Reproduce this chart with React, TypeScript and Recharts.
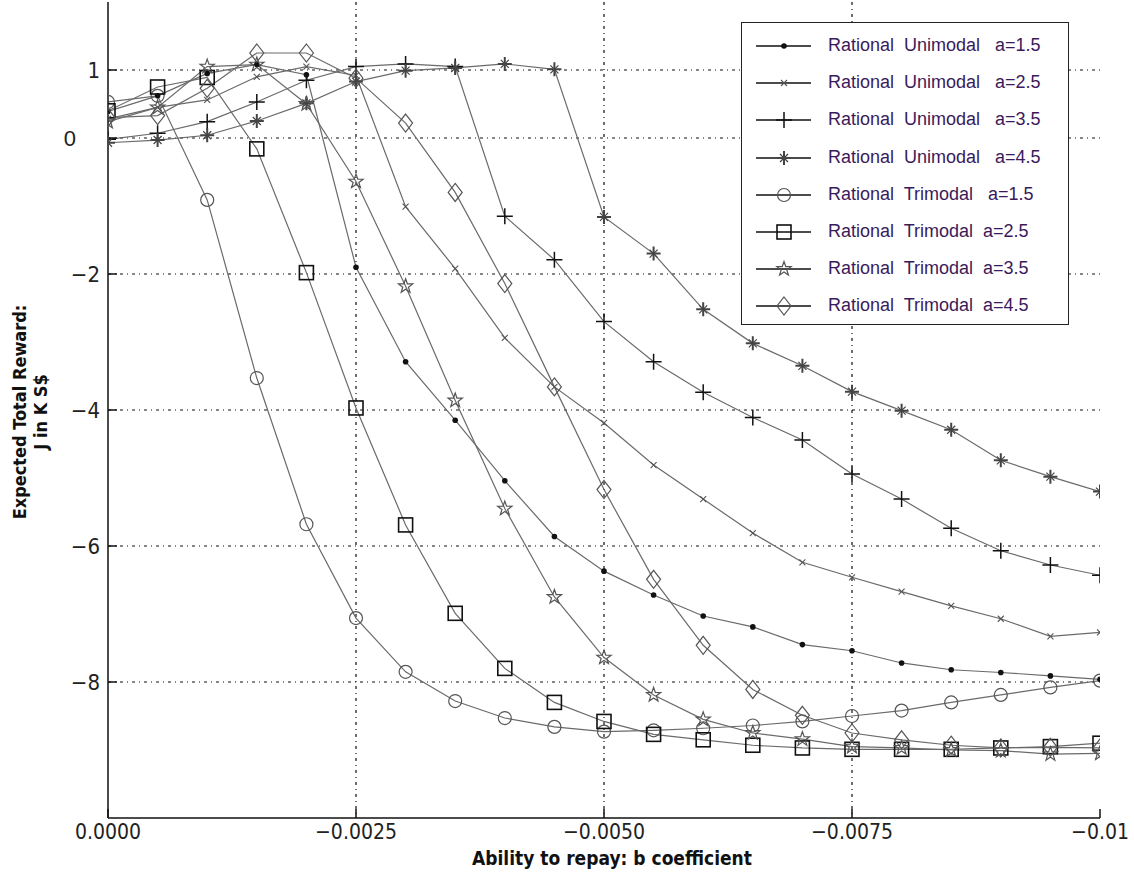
import React from 'react'
import { LineChart, Line, XAxis, YAxis, CartesianGrid, Legend, Label } from 'recharts'

// b coefficient (x axis), 0 down to -0.01
const bValues = [
  0, -0.0005, -0.001, -0.0015, -0.002, -0.0025, -0.003, -0.0035, -0.004, -0.0045,
  -0.005, -0.0055, -0.006, -0.0065, -0.007, -0.0075, -0.008, -0.0085, -0.009, -0.0095, -0.01,
]

// expected total reward, K S$
const uni15 = [0.39, 0.62, 0.95, 1.08, 0.93, -1.9, -3.29, -4.15, -5.04, -5.86, -6.37, -6.72, -7.03, -7.19, -7.45, -7.54, -7.72, -7.82, -7.86, -7.91, -7.96]
const uni25 = [0.28, 0.45, 0.56, 0.9, 1.05, 0.92, -1.01, -1.92, -2.94, -3.66, -4.19, -4.81, -5.31, -5.81, -6.24, -6.46, -6.67, -6.88, -7.07, -7.33, -7.27]
const uni35 = [-0.02, 0.07, 0.24, 0.53, 0.85, 1.05, 1.09, 1.05, -1.15, -1.79, -2.7, -3.29, -3.74, -4.11, -4.44, -4.94, -5.31, -5.74, -6.07, -6.28, -6.43]
const uni45 = [-0.07, -0.03, 0.04, 0.25, 0.51, 0.83, 0.99, 1.03, 1.09, 1.01, -1.16, -1.7, -2.52, -3.02, -3.35, -3.73, -4.01, -4.29, -4.74, -4.98, -5.2]
const tri15 = [0.53, 0.62, -0.91, -3.53, -5.68, -7.06, -7.85, -8.28, -8.53, -8.66, -8.73, -8.71, -8.68, -8.64, -8.58, -8.5, -8.42, -8.3, -8.19, -8.08, -7.98]
const tri25 = [0.4, 0.75, 0.89, -0.16, -1.98, -3.97, -5.69, -6.99, -7.8, -8.3, -8.58, -8.77, -8.85, -8.93, -8.97, -8.99, -8.99, -8.99, -8.97, -8.95, -8.9]
const tri35 = [0.24, 0.45, 1.05, 1.08, 0.5, -0.64, -2.18, -3.86, -5.45, -6.75, -7.64, -8.19, -8.55, -8.75, -8.84, -8.95, -8.97, -9.0, -9.01, -9.06, -9.05]
const tri45 = [0.3, 0.33, 0.73, 1.25, 1.25, 0.88, 0.22, -0.8, -2.14, -3.66, -5.17, -6.49, -7.46, -8.11, -8.49, -8.75, -8.85, -8.93, -8.97, -8.96, -8.97]

const xTicks = [0, -0.0025, -0.005, -0.0075, -0.01]
const xTickLabels = ['0.0000', '\u22120.0025', '\u22120.0050', '\u22120.0075', '\u22120.01']
const yTicks = [-8, -6, -4, -2, 0, 1]
const yTickLabels = ['\u22128', '\u22126', '\u22124', '\u22122', '0', '1']

const series = [
  { key: 'uni15', name: 'Rational  Unimodal   a=1.5', values: uni15, marker: 'dot' },
  { key: 'uni25', name: 'Rational  Unimodal   a=2.5', values: uni25, marker: 'x' },
  { key: 'uni35', name: 'Rational  Unimodal   a=3.5', values: uni35, marker: 'plus' },
  { key: 'uni45', name: 'Rational  Unimodal   a=4.5', values: uni45, marker: 'aster' },
  { key: 'tri15', name: 'Rational  Trimodal   a=1.5', values: tri15, marker: 'circle' },
  { key: 'tri25', name: 'Rational  Trimodal  a=2.5', values: tri25, marker: 'square' },
  { key: 'tri35', name: 'Rational  Trimodal  a=3.5', values: tri35, marker: 'star' },
  { key: 'tri45', name: 'Rational  Trimodal  a=4.5', values: tri45, marker: 'diamond' },
]

const data = bValues.map((b, i) => {
  const row: Record<string, number> = { b }
  series.forEach((s) => { row[s.key] = s.values[i] })
  return row
})

const FONT = "'Liberation Sans Narrow', 'DejaVu Sans Condensed', Arial, sans-serif"

function starPath(cx: number, cy: number, ro: number, ri: number) {
  let d = ''
  for (let k = 0; k < 10; k++) {
    const r = k % 2 === 0 ? ro : ri
    const a = -Math.PI / 2 + (k * Math.PI) / 5
    d += (k === 0 ? 'M' : 'L') + (cx + r * Math.cos(a)).toFixed(2) + ',' + (cy + r * Math.sin(a)).toFixed(2)
  }
  return d + 'Z'
}

function Marker({ kind, cx, cy }: { kind: string; cx: number; cy: number }) {
  if (cx == null || cy == null) return null
  switch (kind) {
    case 'dot':
      return <circle cx={cx} cy={cy} r={2.8} fill="#111" />
    case 'x':
      return <path d={`M${cx - 3},${cy - 3}L${cx + 3},${cy + 3}M${cx - 3},${cy + 3}L${cx + 3},${cy - 3}`} stroke="#555" strokeWidth={1.1} />
    case 'plus':
      return <path d={`M${cx - 8},${cy}L${cx + 8},${cy}M${cx},${cy - 8}L${cx},${cy + 8}`} stroke="#111" strokeWidth={1.5} />
    case 'aster':
      return (
        <g stroke="#444">
          <path d={`M${cx - 7},${cy}L${cx + 7},${cy}M${cx},${cy - 7}L${cx},${cy + 7}`} strokeWidth={2} />
          <path d={`M${cx - 4},${cy - 4}L${cx + 4},${cy + 4}M${cx - 4},${cy + 4}L${cx + 4},${cy - 4}`} strokeWidth={1.2} />
        </g>
      )
    case 'circle':
      return <circle cx={cx} cy={cy} r={6.5} fill="none" stroke="#555" strokeWidth={1.2} />
    case 'square':
      return <rect x={cx - 7} y={cy - 7} width={14} height={14} fill="none" stroke="#111" strokeWidth={1.6} />
    case 'star':
      return <path d={starPath(cx, cy, 7.5, 3)} fill="none" stroke="#555" strokeWidth={1.2} />
    case 'diamond':
      return <path d={`M${cx},${cy - 9}L${cx + 7},${cy}L${cx},${cy + 9}L${cx - 7},${cy}Z`} fill="none" stroke="#555" strokeWidth={1.2} />
    default:
      return null
  }
}

function YTick(props: any) {
  const { x, y, payload } = props
  const i = yTicks.indexOf(payload.value)
  const isZero = payload.value === 0
  return (
    <text x={isZero ? x - 24 : x} y={y} dy="0.35em" textAnchor="end" fontSize={22} fontFamily={isZero ? 'Arial, sans-serif' : FONT} fill="#222">
      {yTickLabels[i]}
    </text>
  )
}

function XTick(props: any) {
  const { x, y, payload } = props
  const i = xTicks.findIndex((t) => Math.abs(t - payload.value) < 1e-9)
  return (
    <text x={x} y={y} dy="0.8em" textAnchor="middle" fontSize={21} fontFamily={FONT} fill="#222">
      {xTickLabels[i]}
    </text>
  )
}

const noTick = () => <g />

function YTitle() {
  return (
    <g fontFamily={FONT} fontWeight="bold" fontSize={18} fill="#111" textAnchor="middle">
      <text transform="translate(26,412) rotate(-90)">Expected Total Reward:</text>
      <text transform="translate(47,412) rotate(-90)">J in K S$</text>
    </g>
  )
}

function XTitle() {
  return (
    <text x={612} y={865} textAnchor="middle" fontFamily={FONT} fontWeight="bold" fontSize={19} fill="#111">
      Ability to repay: b coefficient
    </text>
  )
}

function LegendBox() {
  return (
    <div style={{ width: 326, height: 301, border: '1.5px solid #222', background: '#fff', position: 'relative' }}>
      {series.map((s, i) => {
        const top = 23 + i * 37.2
        return (
          <div key={s.key} style={{ position: 'absolute', left: 0, top: top - 12, height: 24, width: 326 }}>
            <svg width={70} height={24} style={{ position: 'absolute', left: 12, top: 0 }}>
              <line x1={2} y1={12} x2={57} y2={12} stroke="#111" strokeWidth={1.3} />
              <Marker kind={s.marker} cx={30} cy={12} />
            </svg>
            <span style={{ position: 'absolute', left: 86, top: 1, fontFamily: "'Liberation Sans', Arial, sans-serif", fontSize: 18, color: '#3a1a5a', whiteSpace: 'pre' }}>
              {s.name}
            </span>
          </div>
        )
      })}
    </div>
  )
}

export default function App() {
  return (
    <div style={{ position: 'absolute', left: 0, top: 0, width: 1134, height: 874, background: '#fff' }}>
      <LineChart width={1134} height={874} data={data} margin={{ top: 2, right: 34, bottom: 0, left: 48 }}>
        <CartesianGrid
          stroke="#111"
          strokeWidth={1.2}
          strokeDasharray="3 4 1 4"
          horizontalValues={yTicks}
          verticalValues={xTicks.slice(1, 4)}
        />
        <XAxis
          dataKey="b"
          type="number"
          domain={[-0.01, 0]}
          reversed
          ticks={xTicks}
          height={56}
          tick={<XTick />}
          tickSize={-9}
          tickMargin={13}
          stroke="#111"
          strokeWidth={1.5}
          allowDataOverflow
        >
          <Label content={<XTitle />} />
        </XAxis>
        <XAxis
          xAxisId="top"
          orientation="top"
          type="number"
          domain={[-0.01, 0]}
          reversed
          ticks={xTicks}
          height={0}
          tick={noTick}
          tickSize={-9}
          stroke="#111"
          strokeWidth={1.5}
          allowDataOverflow
        />
        <YAxis
          type="number"
          domain={[-10, 2]}
          ticks={yTicks}
          width={60}
          tick={<YTick />}
          tickSize={-9}
          tickMargin={17}
          stroke="#111"
          strokeWidth={1.5}
          allowDataOverflow
        >
          <Label content={<YTitle />} />
        </YAxis>
        <YAxis
          yAxisId="right"
          orientation="right"
          type="number"
          domain={[-10, 2]}
          ticks={yTicks}
          width={0}
          tick={noTick}
          tickSize={-9}
          stroke="#111"
          strokeWidth={1.5}
          allowDataOverflow
        />
        <Legend
          layout="horizontal"
          verticalAlign="middle"
          align="center"
          wrapperStyle={{ left: 741, top: 22, width: 330 }}
          content={() => <LegendBox />}
        />
        {series.map((s) => (
          <Line
            key={s.key}
            dataKey={s.key}
            name={s.name}
            type="linear"
            stroke="#6a6a6a"
            strokeWidth={1.2}
            isAnimationActive={false}
            dot={(p: any) => <Marker key={`${s.key}-${p.index}`} kind={s.marker} cx={p.cx} cy={p.cy} />}
            activeDot={false}
          />
        ))}
      </LineChart>
    </div>
  )
}
